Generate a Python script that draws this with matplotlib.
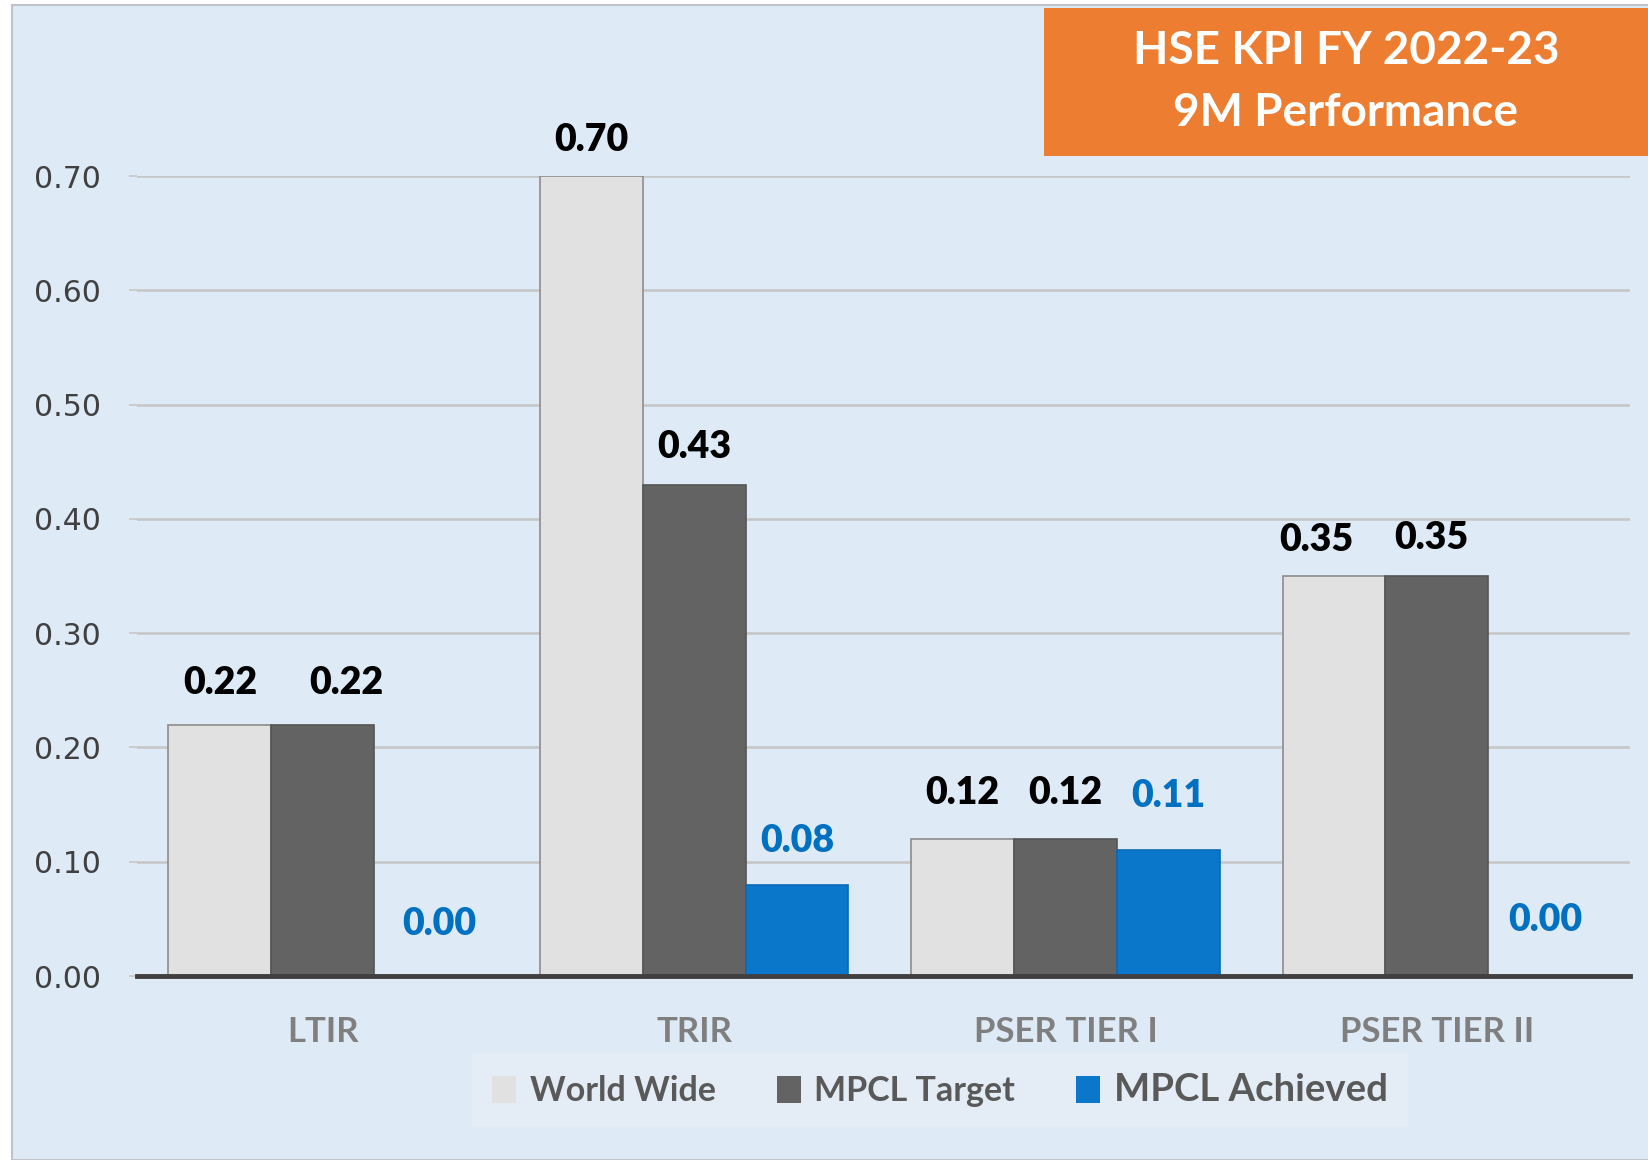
import numpy as np
import matplotlib.pyplot as plt
from matplotlib.patches import Rectangle

# data
categories = ['LTIR', 'TRIR', 'PSER TIER I', 'PSER TIER II']
series_names = ['World Wide', 'MPCL Target', 'MPCL Achieved']
world_wide = [0.22, 0.70, 0.12, 0.35]
mpcl_target = [0.22, 0.43, 0.12, 0.35]
mpcl_achieved = [0.00, 0.08, 0.11, 0.00]
yticks = [0.0, 0.1, 0.2, 0.3, 0.4, 0.5, 0.6, 0.7]

bar_colors = ['#E1E1E1', '#636363', '#0B77CB']
edge_colors = ['#8C8C8C', '#555555', '#0A6AB5']
label_colors = ['#000000', '#000000', '#0070C0']
# small nudges of the value labels (pixels), like in the source
nudge_x = [[0, 0, 0, -18], [24, 0, 0, -6], [14, 0, 0, 6]]
nudge_y = [[42, 36, 46, 36], [42, 38, 46, 38], [52, 44, 54, 56]]

plt.rcParams['font.family'] = ['Lato', 'DejaVu Sans']
fig = plt.figure(figsize=(16.49, 11.6), dpi=100)
fig.patch.set_facecolor('white')
bg = Rectangle((12/1649, 0), 1.2, (1160-5)/1160, transform=fig.transFigure,
               facecolor='#DEEAF6', edgecolor='#C0C4C8', lw=1.5, zorder=-10)
fig.add_artist(bg)

ax = fig.add_axes([137/1649, (1160-976)/1160, (1630-137)/1649, (976-176)/1160])
ax.set_facecolor('none')
ax.set_zorder(1)

x = np.arange(len(categories))
w = 0.277
all_vals = [world_wide, mpcl_target, mpcl_achieved]
for i, vals in enumerate(all_vals):
    pos = x + (i - 1) * w
    ax.bar(pos, vals, w, color=bar_colors[i], edgecolor=edge_colors[i], lw=1.2,
           label=series_names[i], zorder=3)
    for j, v in enumerate(vals):
        ax.annotate(f'{v:.2f}', (pos[j], v), xytext=(nudge_x[i][j], nudge_y[i][j]),
                    textcoords='offset pixels', ha='center', va='center',
                    fontsize=27, fontweight='heavy', color=label_colors[i],
                    annotation_clip=False, zorder=5)

ax.set_xlim(-0.5, 3.52)
ax.set_ylim(0, 0.70)
ax.set_yticks(yticks)
ax.set_yticklabels([f'{t:.2f}' for t in yticks], family='DejaVu Sans', fontsize=21.5,
                   color='#404040')
ax.set_xticks(x)
ax.set_xticklabels(categories, fontsize=25, fontweight='bold', color='#7F7F7F')
ax.tick_params(axis='x', length=0, pad=29)
ax.tick_params(axis='y', length=6, width=1.2, color='#C6C6C6', pad=20)
ax.grid(axis='y', color='#C6C6C6', lw=1.8, zorder=1)
ax.set_axisbelow(True)
for s in ['top', 'right', 'left']:
    ax.spines[s].set_visible(False)
ax.spines['bottom'].set_color('#404040')
ax.spines['bottom'].set_linewidth(3.5)
ax.spines['bottom'].set_zorder(4)

leg = ax.legend(ncol=3, loc='center', bbox_to_anchor=(940/1649, 70/1160),
                bbox_transform=fig.transFigure, frameon=True, fancybox=False,
                handlelength=0.7, handleheight=0.85, handletextpad=0.4, columnspacing=1.8,
                borderpad=0.6, prop={'size': 24.5, 'weight': 'bold'})
leg.get_frame().set_facecolor('#E4ECF5')
leg.get_frame().set_edgecolor('none')
leg.get_frame().set_alpha(1)
for t in leg.get_texts():
    t.set_color('#595959')
leg.get_texts()[2].set_fontsize(27.5)
for h in leg.legend_handles:
    h.set_edgecolor('none')

# title box
title_box = Rectangle((1044/1649, (1160-156)/1160), 1, 148/1160,
                      transform=fig.transFigure, facecolor='#ED7D31',
                      edgecolor='none', zorder=5)
fig.add_artist(title_box)
fig.text(1346/1649, (1160-82)/1160, 'HSE KPI FY 2022-23\n9M Performance', ha='center',
         va='center', color='white', fontsize=33, fontweight='bold', linespacing=1.6,
         zorder=6)

fig.savefig('out.png', dpi=100, facecolor=fig.get_facecolor())
